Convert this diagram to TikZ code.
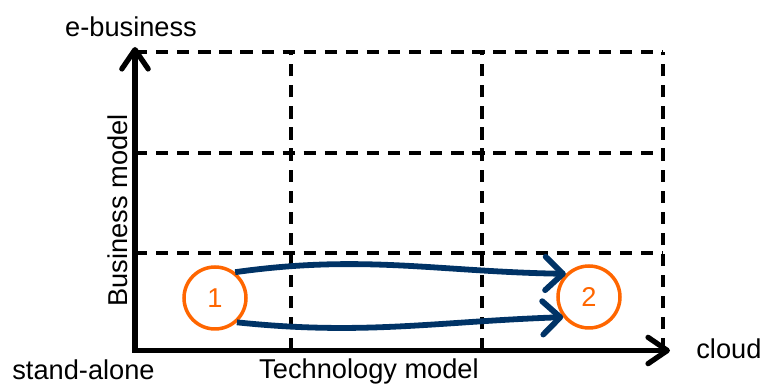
\documentclass[tikz,border=0pt]{standalone}
\usepackage{fontspec}
\setmainfont{Liberation Sans}
\usetikzlibrary{arrows.meta,positioning,calc}
\definecolor{pathblue}{RGB}{0,51,102}
\definecolor{stageorange}{RGB}{255,102,0}
\tikzset{
    axis/.style={line width=3pt, {Straight Barb[length=11pt,width=15pt,round]}-{Straight Barb[length=11pt,width=15pt,round]}},
    gridline/.style={dash pattern=on 7pt off 5pt, line width=2pt},
    stage/.style={circle, draw=stageorange, text=stageorange, line width=2pt, minimum size=1.24cm, inner sep=0pt, font=\fontsize{15.5}{18}\selectfont},
    move/.style={draw=pathblue, line width=3.3pt, -{Straight Barb[length=10pt,width=19pt,round]}},
    lbl/.style={inner sep=0pt, font=\fontsize{15.5}{18}\selectfont}
}

\begin{document}
\begin{tikzpicture}[x=0.02cm, y=0.02cm]
    \useasboundingbox (0,0) rectangle (762,385);

    % Axis corner and tips
    \coordinate (o) at (135,34.5);
    \coordinate (ytip) at (135,338);
    \coordinate (xtip) at (670,34.5);

    % Dashed grid, three by three
    \foreach \y in {132,232,333}
        \draw [gridline] (135,\y) -- (663,\y);
    \foreach \x in {291,482,663}
        \draw [gridline] (\x,34.5) -- (\x,333);

    % Axes
    \draw [axis] (ytip) -- (o) -- (xtip);

    % Axis labels
    \node [lbl, anchor=base] (ebiz) at ([shift={(-4,10)}]ytip) {e-business};
    \node [lbl, anchor=base west] (cloud) at ([shift={(26,-8.5)}]xtip) {cloud};
    \node [lbl, anchor=base] (alone) at ([shift={(-51.5,-29.5)}]o) {stand-alone};
    \node [lbl, anchor=base] (tech) at ([shift={(234,-28.5)}]o) {Technology model};
    \node [lbl, anchor=base, rotate=90] (biz) at ([shift={(-7,140)}]o) {Business model};

    % Stages
    \node [stage] (s1) at (215,87) {1};
    \node [stage] (s2) at (589,88) {2};

    % Moves from stage 1 to stage 2
    \draw [move] (s1.52) to[out=8, in=179] (s2.135);
    \draw [move] (s1.-48) to[out=-6, in=182] (s2.218);
\end{tikzpicture}
\end{document}
